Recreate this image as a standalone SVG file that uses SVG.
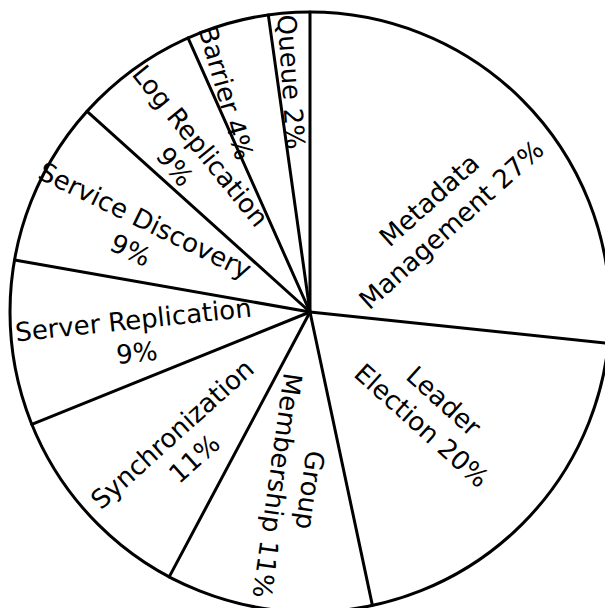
<svg xmlns="http://www.w3.org/2000/svg" width="605" height="608" viewBox="0 0 605 608">
  <style>
    .edge { fill: none; stroke: #000; stroke-width: 3; stroke-linecap: round; }
    .lbl { font-family: "DejaVu Sans", Verdana, sans-serif; font-size: 26px; fill: #000; text-anchor: middle; }
  </style>
  <rect width="605" height="608" fill="#fff"/>

  <!-- pie outline, center (310,312), r=300 -->
  <g id="pie">
    <circle class="edge" cx="310" cy="312" r="300" fill="#fff"/>
  </g>

  <!-- slice boundaries -->
  <g id="spokes">
    <line class="edge" x1="310" y1="312" x2="310" y2="12"/>
    <line class="edge" x1="310" y1="312" x2="608.4" y2="343.4"/>
    <line class="edge" x1="310" y1="312" x2="372.4" y2="605.4"/>
    <line class="edge" x1="310" y1="312" x2="169.2" y2="576.9"/>
    <line class="edge" x1="310" y1="312" x2="31.8" y2="424.4"/>
    <line class="edge" x1="310" y1="312" x2="14.6" y2="259.9"/>
    <line class="edge" x1="310" y1="312" x2="87.1" y2="111.3"/>
    <line class="edge" x1="310" y1="312" x2="188.0" y2="37.9"/>
    <line class="edge" x1="310" y1="312" x2="268.3" y2="14.9"/>
  </g>

  <!-- slice labels, set radially -->
  <g id="metadata-management">
    <text class="lbl" transform="translate(440,212) rotate(-42)"><tspan x="0" y="-7">Metadata</tspan><tspan x="0" y="26">Management 27%</tspan></text>
  </g>
  <g id="leader-election">
    <text class="lbl" transform="translate(433,413) rotate(42)"><tspan x="0" y="-7">Leader</tspan><tspan x="0" y="26">Election 20%</tspan></text>
  </g>
  <g id="group-membership">
    <text class="lbl" transform="translate(294,488) rotate(98)"><tspan x="0" y="-7">Group</tspan><tspan x="0" y="26">Membership 11%</tspan></text>
  </g>
  <g id="synchronization">
    <text class="lbl" transform="translate(183,446) rotate(-42)"><tspan x="0" y="-7">Synchronization</tspan><tspan x="0" y="26">11%</tspan></text>
  </g>
  <g id="server-replication">
    <text class="lbl" transform="translate(135,336) rotate(-6)"><tspan x="0" y="-7">Server Replication</tspan><tspan x="0" y="26">9%</tspan></text>
  </g>
  <g id="service-discovery">
    <text class="lbl" transform="translate(138,235) rotate(26)"><tspan x="0" y="-7">Service Discovery</tspan><tspan x="0" y="26">9%</tspan></text>
  </g>
  <g id="log-replication">
    <text class="lbl" transform="translate(188,156) rotate(51)"><tspan x="0" y="-7">Log Replication</tspan><tspan x="0" y="26">9%</tspan></text>
  </g>
  <g id="barrier">
    <text class="lbl" transform="translate(226,93) rotate(74)"><tspan x="0" y="9">Barrier 4%</tspan></text>
  </g>
  <g id="queue">
    <text class="lbl" transform="translate(291,82) rotate(86)"><tspan x="0" y="9">Queue 2%</tspan></text>
  </g>
</svg>
